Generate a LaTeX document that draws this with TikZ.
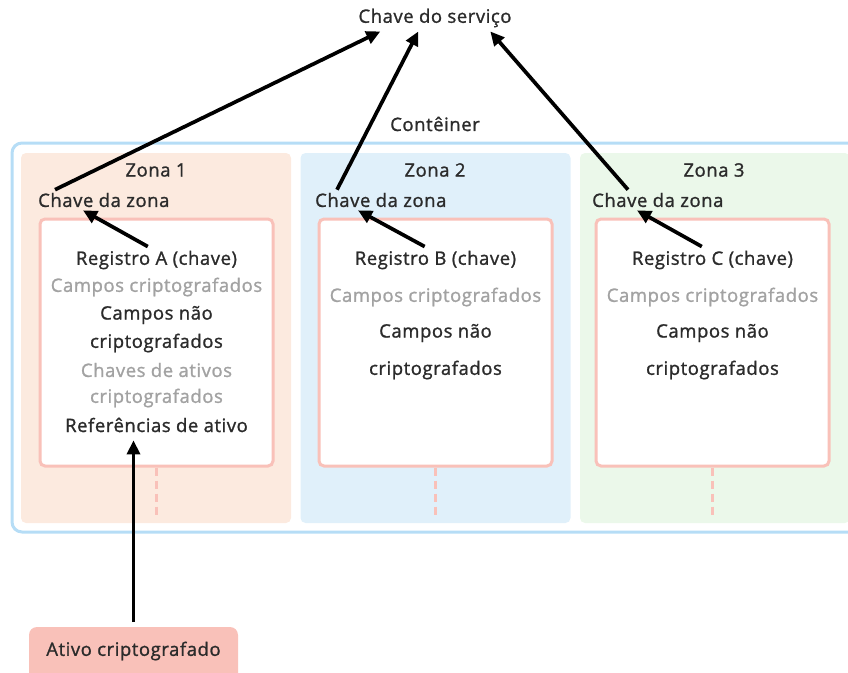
\documentclass[tikz,border=0pt]{standalone}
\usepackage{fontspec}
\setmainfont{Open Sans}[LetterSpace=3,BoldFont=*,BoldFeatures={FakeBold=1.2}]
\usetikzlibrary{arrows.meta}
\definecolor{ink}{HTML}{2B2B2B}
\definecolor{faded}{HTML}{A2A2A2}
\definecolor{contline}{HTML}{B6DDF6}
\definecolor{zoneone}{HTML}{FCEADF}
\definecolor{zonetwo}{HTML}{E0F0FA}
\definecolor{zonethree}{HTML}{EBF8EA}
\definecolor{recline}{HTML}{F9C1B9}
\tikzset{
  txt/.style={font=\fontsize{18.5}{22}\selectfont\bfseries, text=ink, inner sep=0pt},
  dim/.style={txt, text=faded},
  zonebox/.style={rounded corners=5pt, minimum width=270pt, minimum height=370pt, inner sep=0pt},
  recbox/.style={draw=recline, line width=3pt, fill=white, rounded corners=5pt,
    minimum width=233pt, minimum height=247pt, inner sep=0pt},
  arr/.style={line width=3.7pt, -{Triangle[length=14pt,width=13pt]}},
  tailline/.style={draw=recline, line width=2.5pt, dash pattern=on 8pt off 5pt}
}
\begin{document}
\begin{tikzpicture}[x=1pt,y=-1pt]
\useasboundingbox (0,0) rectangle (848,672);
\clip (0,0) rectangle (848,672);
% container
\draw[contline, line width=3pt, rounded corners=10pt] (12,143) rectangle (870,532);
\node[txt] (cont) at (435,124) {Contêiner};
\node[txt] (svc) at (435,18) {Chave do serviço};
% zones
\node[zonebox, fill=zoneone] (zA) at (156,338) {};
\node[zonebox, fill=zonetwo] (zB) at (435.5,338) {};
\node[zonebox, fill=zonethree] (zC) at (715,338) {};
\node[txt] (nA) at (156,170) {Zona 1};
\node[txt] (nB) at (435,170) {Zona 2};
\node[txt] (nC) at (714,170) {Zona 3};
\node[txt, anchor=west] (keyA) at (38,200) {Chave da zona};
\node[txt, anchor=west] (keyB) at (315,200) {Chave da zona};
\node[txt, anchor=west] (keyC) at (592,200) {Chave da zona};
% records
\node[recbox] (recA) at (156.5,342.5) {};
\node[recbox] (recB) at (435.5,342.5) {};
\node[recbox] (recC) at (712.5,342.5) {};
\draw[tailline] (recA.south) -- ++(0,47);
\draw[tailline] (recB.south) -- ++(0,47);
\draw[tailline] (recC.south) -- ++(0,47);
% zone 1 record
\node[txt] (regA) at (156.5,260) {Registro A (chave)};
\node[dim] (encA) at (156.5,287) {Campos criptografados};
\node[txt] (plainA) at (156.5,315) {Campos não};
\node[txt] (plainAb) at (156.5,343) {criptografados};
\node[dim] (akeyA) at (156.5,370) {Chaves de ativos};
\node[dim] (akeyAb) at (156.5,398) {criptografados};
\node[txt] (ref) at (156.5,425) {Referências de ativo};
% zone 2 record
\node[txt] (regB) at (435.5,260) {Registro B (chave)};
\node[dim] (encB) at (435.5,297) {Campos criptografados};
\node[txt] (plainB) at (435.5,333) {Campos não};
\node[txt] (plainBb) at (435.5,370) {criptografados};
% zone 3 record
\node[txt] (regC) at (712.5,260) {Registro C (chave)};
\node[dim] (encC) at (712.5,297) {Campos criptografados};
\node[txt] (plainC) at (712.5,333) {Campos não};
\node[txt] (plainCb) at (712.5,370) {criptografados};
% asset
\draw[fill=recline, draw=none, rounded corners=8pt] (29,627) rectangle (238,690);
\node[txt] (asset) at (133.5,651) {Ativo criptografado};
\coordinate (assettop) at (133.5,622);
% arrows
\draw[arr] ([xshift=72pt,yshift=4pt]regA.north west) -- ([xshift=45pt,yshift=-3pt]keyA.south west);
\draw[arr] ([xshift=70pt,yshift=4pt]regB.north west) -- ([xshift=43pt,yshift=-3pt]keyB.south west);
\draw[arr] ([xshift=70pt,yshift=4pt]regC.north west) -- ([xshift=45pt,yshift=-3pt]keyC.south west);
\draw[arr] ([xshift=17pt,yshift=3pt]keyA.north west) -- ([xshift=22pt,yshift=-4pt]svc.south west);
\draw[arr] ([xshift=22pt,yshift=3pt]keyB.north west) -- ([xshift=60pt,yshift=-4pt]svc.south west);
\draw[arr] ([xshift=36pt,yshift=3pt]keyC.north west) -- ([xshift=132pt,yshift=-4pt]svc.south west);
\draw[arr] (assettop) -- ([yshift=-8pt]assettop |- ref.south);
\end{tikzpicture}
\end{document}
